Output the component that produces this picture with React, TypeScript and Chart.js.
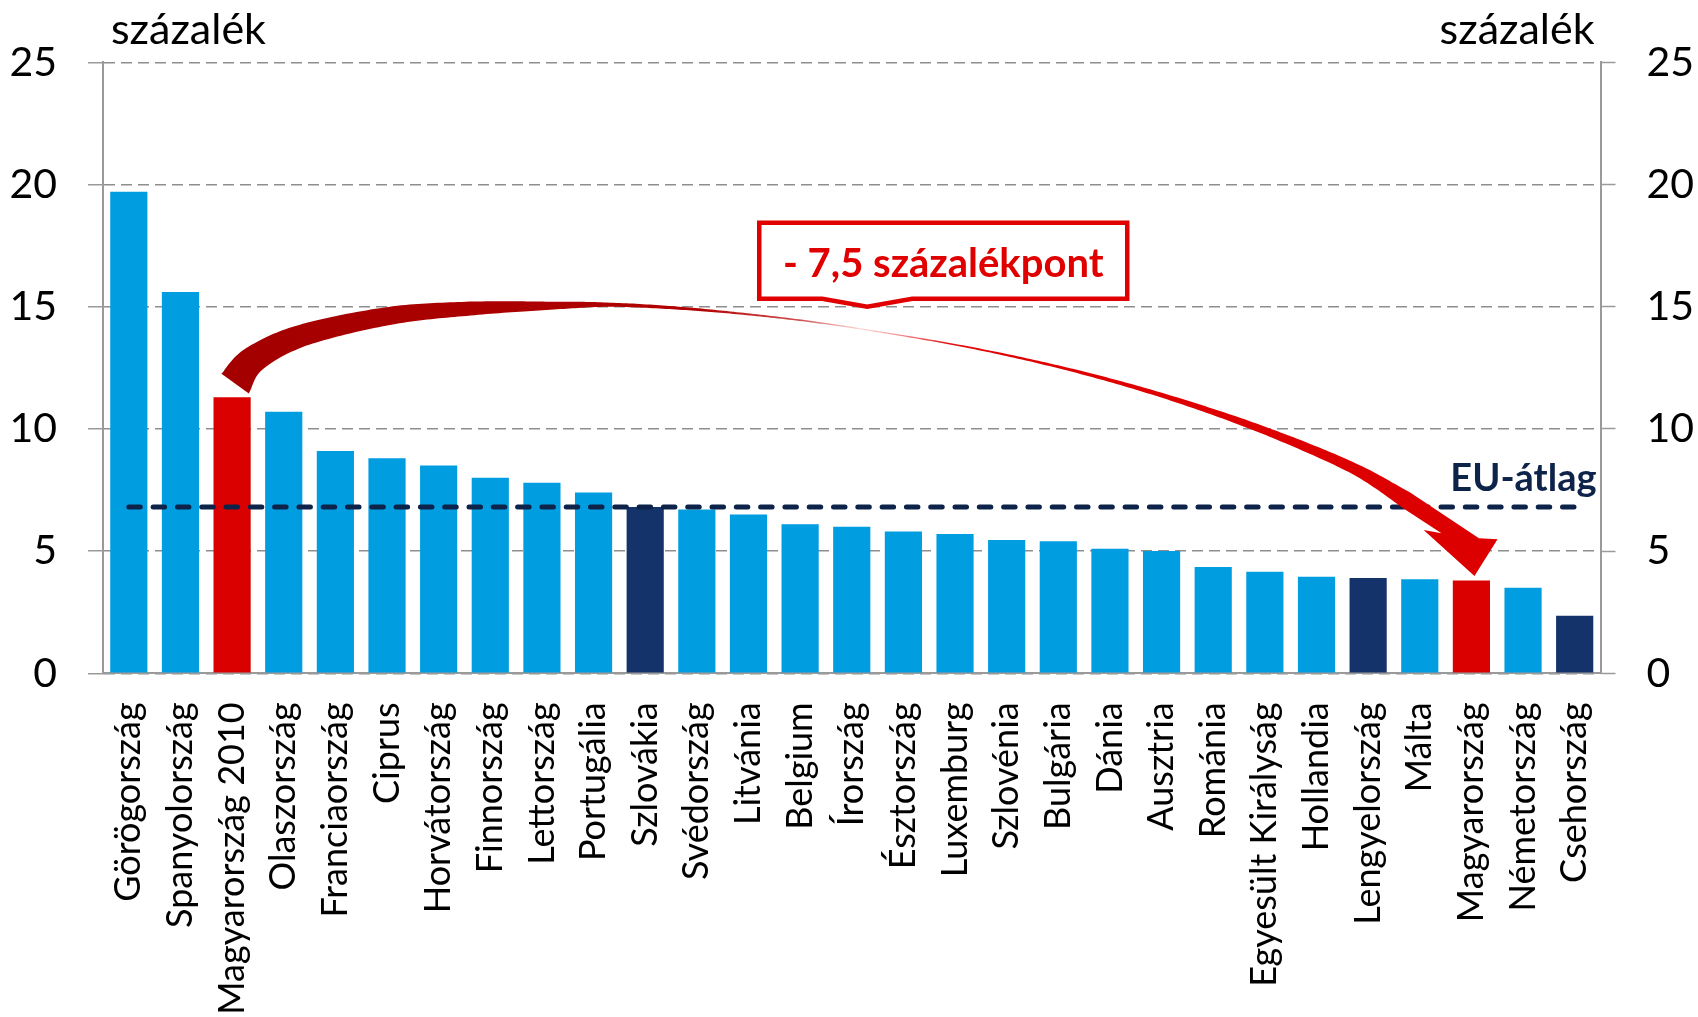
import React, { useEffect, useRef } from "react";
import { Chart, registerables } from "chart.js";

Chart.register(...registerables);

// ---------- data ----------
const categories = [
  "Görögország",
  "Spanyolország",
  "Magyarország 2010",
  "Olaszország",
  "Franciaország",
  "Ciprus",
  "Horvátország",
  "Finnország",
  "Lettország",
  "Portugália",
  "Szlovákia",
  "Svédország",
  "Litvánia",
  "Belgium",
  "Írország",
  "Észtország",
  "Luxemburg",
  "Szlovénia",
  "Bulgária",
  "Dánia",
  "Ausztria",
  "Románia",
  "Egyesült Királyság",
  "Hollandia",
  "Lengyelország",
  "Málta",
  "Magyarország",
  "Németország",
  "Csehország",
];

const values = [
  19.7, 15.6, 11.3, 10.7, 9.1, 8.8, 8.5, 8.0, 7.8, 7.4, 6.8, 6.7, 6.5, 6.1, 6.0,
  5.8, 5.7, 5.45, 5.4, 5.1, 5.0, 4.35, 4.15, 3.95, 3.9, 3.85, 3.8, 3.5, 2.35,
];

const euAverage = [
  6.8, 6.8, 6.8, 6.8, 6.8, 6.8, 6.8, 6.8, 6.8, 6.8, 6.8, 6.8, 6.8, 6.8, 6.8,
  6.8, 6.8, 6.8, 6.8, 6.8, 6.8, 6.8, 6.8, 6.8, 6.8, 6.8, 6.8, 6.8, 6.8,
];

const redCategories = ["Magyarország 2010", "Magyarország"];
const navyCategories = ["Szlovákia", "Lengyelország", "Csehország"];

const yMin = 0;
const yMax = 25;
const yStep = 5;

const unitLabel = "százalék";
const euLabel = "EU-átlag";
const changeLabel = "- 7,5 százalékpont";

// curved arrow path in chart units: [category position, value, width px]
const arrowPath = [
  [2.056, 11.858, 34],
  [2.414, 12.84, 27],
  [3.363, 13.826, 22],
  [5.058, 14.628, 18],
  [6.607, 14.922, 14],
  [8.156, 15.041, 8],
  [9.318, 15.082, 4],
  [10.596, 14.947, 3],
  [11.835, 14.722, 2],
  [13.191, 14.394, 1.5],
  [14.546, 13.965, 1.2],
  [16.076, 13.416, 1.6],
  [17.606, 12.737, 2.5],
  [19.136, 11.915, 3.8],
  [20.666, 10.929, 5.5],
  [22.196, 9.767, 8],
  [23.725, 8.376, 11],
  [24.713, 7.124, 17],
];
const arrowOuterBase = [26.146, 5.524];
const arrowRightBarb = [26.506, 5.483];
const arrowTip = [26.059, 3.981];
const arrowLeftBarb = [25.075, 5.863];
const arrowInnerBase = [25.42, 5.728];
const calloutTip = [14.3, 15.0];

// ---------- style ----------
const FONT = "Lato, 'Open Sans', sans-serif";
const BLUE = "#009EE0";
const NAVY = "#14336B";
const RED = "#DA0000";
const EU_COLOR = "#0E2349";
const GRID = "#8E8E8E";
const AXIS = "#9A9A9A";

function catmull(p0: number, p1: number, p2: number, p3: number, t: number) {
  const t2 = t * t;
  const t3 = t2 * t;
  return 0.5 * (2 * p1 + (-p0 + p2) * t + (2 * p0 - 5 * p1 + 4 * p2 - p3) * t2 + (-p0 + 3 * p1 - 3 * p2 + p3) * t3);
}

const annotationPlugin = {
  id: "annotations",
  afterDatasetsDraw(chart: any) {
    const ctx = chart.ctx as CanvasRenderingContext2D;
    const xs = chart.scales.x;
    const ys = chart.scales.y;
    const px = (i: number) => xs.getPixelForValue(i);
    const py = (v: number) => ys.getPixelForValue(v);
    const area = chart.chartArea;

    // ---- curved arrow ----
    const pts = arrowPath.map((p) => [px(p[0]), py(p[1]), p[2]]);
    const samples: number[][] = [];
    const n = pts.length;
    for (let i = 0; i < n - 1; i++) {
      const a = pts[Math.max(0, i - 1)];
      const b = pts[i];
      const c = pts[i + 1];
      const d = pts[Math.min(n - 1, i + 2)];
      const steps = 20;
      for (let s = 0; s < steps; s++) {
        const t = s / steps;
        samples.push([
          catmull(a[0], b[0], c[0], d[0], t),
          catmull(a[1], b[1], c[1], d[1], t),
          b[2] + (c[2] - b[2]) * t,
        ]);
      }
    }
    samples.push(pts[n - 1]);
    const outer: number[][] = [];
    const inner: number[][] = [];
    for (let i = 0; i < samples.length; i++) {
      const prev = samples[Math.max(0, i - 1)];
      const next = samples[Math.min(samples.length - 1, i + 1)];
      let dx = next[0] - prev[0];
      let dy = next[1] - prev[1];
      const len = Math.hypot(dx, dy) || 1;
      dx /= len;
      dy /= len;
      const nx = -dy;
      const ny = dx;
      const hw = samples[i][2] / 2;
      outer.push([samples[i][0] - nx * hw, samples[i][1] - ny * hw]);
      inner.push([samples[i][0] + nx * hw, samples[i][1] + ny * hw]);
    }
    const x0 = pts[0][0];
    const x1 = px(arrowRightBarb[0]);
    const grad = ctx.createLinearGradient(x0, 0, x1, 0);
    const f = (x: number) => Math.min(1, Math.max(0, (x - x0) / (x1 - x0)));
    grad.addColorStop(0, "#A40000");
    grad.addColorStop(f(x0 + 365), "#AE0000");
    grad.addColorStop(f(x0 + 465), "#B40000");
    grad.addColorStop(f(x0 + 565), "#D05050");
    grad.addColorStop(f(x0 + 625), "#FBD8D8");
    grad.addColorStop(f(x0 + 665), "#F49090");
    grad.addColorStop(f(x0 + 715), "#E41010");
    grad.addColorStop(f(x0 + 765), "#E00000");
    grad.addColorStop(1, "#DC0000");

    ctx.save();
    ctx.beginPath();
    ctx.moveTo(outer[0][0], outer[0][1]);
    for (let i = 1; i < outer.length; i++) ctx.lineTo(outer[i][0], outer[i][1]);
    ctx.lineTo(px(arrowOuterBase[0]), py(arrowOuterBase[1]));
    ctx.lineTo(px(arrowRightBarb[0]), py(arrowRightBarb[1]));
    ctx.lineTo(px(arrowTip[0]), py(arrowTip[1]));
    ctx.lineTo(px(arrowLeftBarb[0]), py(arrowLeftBarb[1]));
    ctx.lineTo(px(arrowInnerBase[0]), py(arrowInnerBase[1]));
    for (let i = inner.length - 1; i >= 0; i--) ctx.lineTo(inner[i][0], inner[i][1]);
    ctx.closePath();
    ctx.fillStyle = grad;
    ctx.fill();
    ctx.restore();

    // ---- callout box ----
    const tx = px(calloutTip[0]);
    const ty = py(calloutTip[1]);
    ctx.save();
    ctx.beginPath();
    ctx.moveTo(tx - 108, ty - 84);
    ctx.lineTo(tx + 260, ty - 84);
    ctx.lineTo(tx + 260, ty - 8);
    ctx.lineTo(tx + 45, ty - 8);
    ctx.lineTo(tx, ty);
    ctx.lineTo(tx - 45, ty - 8);
    ctx.lineTo(tx - 108, ty - 8);
    ctx.closePath();
    ctx.fillStyle = "#FFFFFF";
    ctx.fill();
    ctx.lineWidth = 4.5;
    ctx.strokeStyle = "#E00000";
    ctx.lineJoin = "miter";
    ctx.stroke();
    ctx.fillStyle = "#E00000";
    ctx.font = `bold 40px ${FONT}`;
    ctx.textAlign = "center";
    ctx.textBaseline = "alphabetic";
    ctx.fillText(changeLabel, tx + 76, ty - 30);
    ctx.restore();

    // ---- EU label ----
    ctx.save();
    ctx.fillStyle = EU_COLOR;
    ctx.font = `bold 38px ${FONT}`;
    ctx.textAlign = "right";
    ctx.textBaseline = "alphabetic";
    ctx.fillText(euLabel, area.right - 4, py(euAverage[euAverage.length - 1]) - 16);
    ctx.restore();

    // ---- unit labels ----
    ctx.save();
    ctx.fillStyle = "#000";
    ctx.font = `43px ${FONT}`;
    ctx.textBaseline = "alphabetic";
    ctx.textAlign = "left";
    ctx.fillText(unitLabel, area.left + 8, area.top - 18);
    ctx.textAlign = "right";
    ctx.fillText(unitLabel, area.right - 6, area.top - 18);
    ctx.restore();
  },
};

export default function App() {
  const ref = useRef<HTMLCanvasElement>(null);

  useEffect(() => {
    const canvas = ref.current;
    if (!canvas) return;
    const colors = categories.map((c) =>
      redCategories.includes(c) ? RED : navyCategories.includes(c) ? NAVY : BLUE
    );
    const yRange = { min: yMin, max: yMax };
    const chart = new Chart(canvas, {
      type: "bar",
      data: {
        labels: categories,
        datasets: [
          {
            type: "bar",
            data: values,
            backgroundColor: colors,
            borderWidth: 0,
            barPercentage: 0.72,
            categoryPercentage: 1,
            order: 1,
          },
          {
            type: "line",
            data: euAverage,
            borderColor: EU_COLOR,
            borderWidth: 5,
            borderDash: [11.5, 12.8],
            borderCapStyle: "round",
            pointRadius: 0,
            fill: false,
            tension: 0,
            order: 0,
          },
        ] as any,
      },
      options: {
        animation: false,
        responsive: false,
        devicePixelRatio: 1,
        layout: { padding: { top: 62.3, left: 0, right: 0, bottom: 0 } },
        plugins: {
          legend: { display: false },
          tooltip: { enabled: false },
        },
        scales: {
          x: {
            grid: { display: false, drawTicks: false },
            border: { display: true, color: AXIS, width: 2 },
            ticks: {
              autoSkip: false,
              maxRotation: 90,
              minRotation: 90,
              padding: 29,
              color: "#000",
              font: { family: FONT, size: 36 },
            },
            afterFit: (s: any) => {
              s.height = 343.7;
            },
          },
          y: {
            position: "left",
            ...yRange,
            grid: {
              color: GRID,
              lineWidth: 1.5,
              drawTicks: true,
              tickLength: 15,
              tickColor: AXIS,
              tickWidth: 1.5,
              tickBorderDash: [],
            },
            border: { display: true, color: AXIS, width: 2, dash: [11, 6] },
            ticks: {
              stepSize: yStep,
              padding: 31,
              color: "#000",
              font: { family: FONT, size: 41 },
            },
            afterFit: (s: any) => {
              s.width = 103;
            },
          },
          y2: {
            position: "right",
            ...yRange,
            grid: {
              drawOnChartArea: false,
              drawTicks: true,
              tickLength: 15,
              tickColor: AXIS,
              tickWidth: 1.5,
              color: AXIS,
            },
            border: { display: true, color: AXIS, width: 2 },
            ticks: {
              stepSize: yStep,
              padding: 31,
              color: "#000",
              font: { family: FONT, size: 41 },
            },
            afterFit: (s: any) => {
              s.width = 97.5;
            },
          },
        },
      } as any,
      plugins: [annotationPlugin],
    });
    return () => chart.destroy();
  }, []);

  return (
    <div
      style={{
        position: "absolute",
        left: 0,
        top: 0,
        width: 1698,
        height: 1017,
        background: "#fff",
      }}
    >
      <canvas ref={ref} width={1698} height={1017} style={{ display: "block" }} />
    </div>
  );
}
